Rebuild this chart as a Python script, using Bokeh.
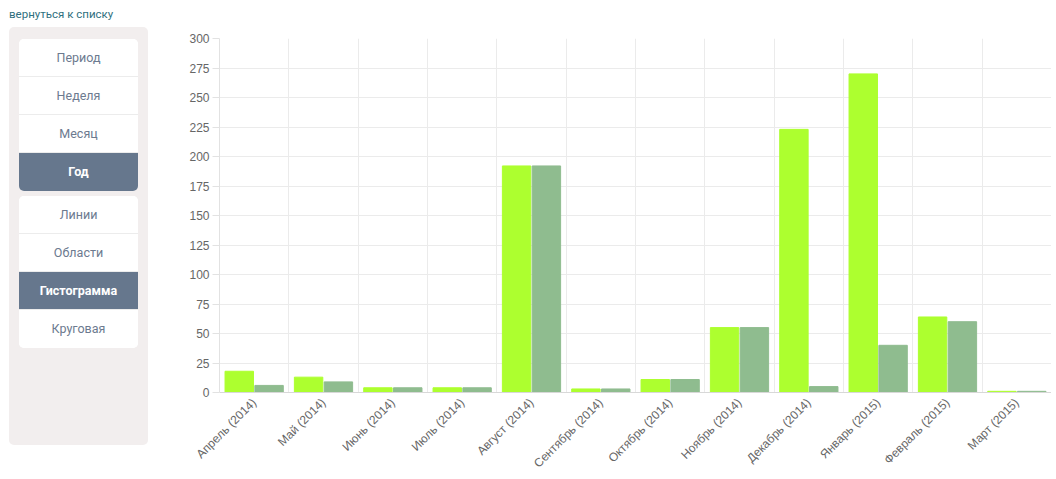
from bokeh.plotting import figure
from bokeh.models import ColumnDataSource, FactorRange, FixedTicker, Div, Grid, Range1d
from bokeh.transform import dodge
from bokeh.layouts import row
from bokeh.embed import file_html
from bokeh.resources import INLINE
import math

# ---- data ----
months = ["Апрель (2014)", "Май (2014)", "Июнь (2014)", "Июль (2014)",
          "Август (2014)", "Сентябрь (2014)", "Октябрь (2014)", "Ноябрь (2014)",
          "Декабрь (2014)", "Январь (2015)", "Февраль (2015)", "Март (2015)"]
series_a = [18, 13, 4, 4, 192, 3, 11, 55, 223, 270, 64, 1]
series_b = [6, 9, 4, 4, 192, 3, 11, 55, 5, 40, 60, 1]
y_ticks = list(range(0, 301, 25))

back_link = "вернуться к списку"
period_items = ["Период", "Неделя", "Месяц", "Год"]
period_active = "Год"
type_items = ["Линии", "Области", "Гистограмма", "Круговая"]
type_active = "Гистограмма"

# ---- sidebar ----
def group_html(items, active, top):
    parts = []
    for i, it in enumerate(items):
        last = i == len(items) - 1
        bg = "#66778d" if it == active else "#ffffff"
        col = "#ffffff" if it == active else "#6c7a8f"
        fw = "bold" if it == active else "normal"
        border = "" if last else "border-bottom:1px solid #ececec;"
        parts.append(
            f'<div style="box-sizing:border-box;height:38px;line-height:37px;text-align:center;background:{bg};'
            f'color:{col};font-weight:{fw};font-size:12.5px;{border}">{it}</div>')
    return (f'<div style="position:absolute;left:19px;top:{top}px;width:119px;background:#fff;'
            f'border-radius:5px;overflow:hidden;">' + "".join(parts) + '</div>')

side_html = (
    '<div style="position:relative;width:168px;height:478px;font-family:Roboto, sans-serif;">'
    f'<div style="position:absolute;left:9px;top:7px;line-height:14px;font-size:11.5px;color:#2f6f7e;">{back_link}</div>'
    '<div style="position:absolute;left:9px;top:27px;width:139px;height:418px;background:#f2eeee;border-radius:5px;"></div>'
    + group_html(period_items, period_active, 39)
    + group_html(type_items, type_active, 196)
    + '</div>'
)
side = Div(text=side_html, width=168, height=478, margin=0)

# ---- chart ----
source = ColumnDataSource(data=dict(month=months, a=series_a, b=series_b))

p = figure(x_range=FactorRange(*months), y_range=Range1d(0, 300),
           width=883, height=478, output_backend="svg", toolbar_location=None,
           min_border_left=51, min_border_right=0, min_border_top=38, min_border_bottom=80,
           margin=0)
p.outline_line_color = None
p.background_fill_color = "#ffffff"
p.border_fill_color = "#ffffff"

p.vbar(x=dodge("month", -0.215, range=p.x_range), top="a", width=0.41, source=source,
       fill_color="#adff2f", line_color="#adff2f", line_width=1)
p.vbar(x=dodge("month", 0.215, range=p.x_range), top="b", width=0.41, source=source,
       fill_color="#8fbc8f", line_color="#8fbc8f", line_width=1)

# grids
p.xgrid.grid_line_color = None
p.add_layout(Grid(dimension=0, ticker=FixedTicker(ticks=list(range(0, 12))),
                  grid_line_color="#ebebeb", grid_line_width=1))
p.ygrid.ticker = FixedTicker(ticks=y_ticks)
p.ygrid.grid_line_color = "#ebebeb"

# y axis
p.yaxis.ticker = FixedTicker(ticks=y_ticks)
p.yaxis.axis_line_color = "#e2e2e2"
p.yaxis.major_tick_line_color = "#e2e2e2"
p.yaxis.major_tick_out = 7
p.yaxis.major_tick_in = 0
p.yaxis.minor_tick_line_color = None
p.yaxis.major_label_standoff = 3
p.yaxis.major_label_text_font = "Liberation Sans"
p.yaxis.major_label_text_font_size = "12px"
p.yaxis.major_label_text_color = "#666666"

# x axis
p.xaxis.axis_line_color = "#d8d8d8"
p.xaxis.major_tick_line_color = None
p.xaxis.major_tick_out = 0
p.xaxis.major_tick_in = 0
p.xaxis.major_label_orientation = math.pi / 4
p.xaxis.major_label_standoff = 8
p.xaxis.major_label_text_font = "Liberation Sans"
p.xaxis.major_label_text_font_size = "12px"
p.xaxis.major_label_text_color = "#666666"

layout = row(side, p, spacing=0)
open("out.html", "w").write(file_html(layout, INLINE))
